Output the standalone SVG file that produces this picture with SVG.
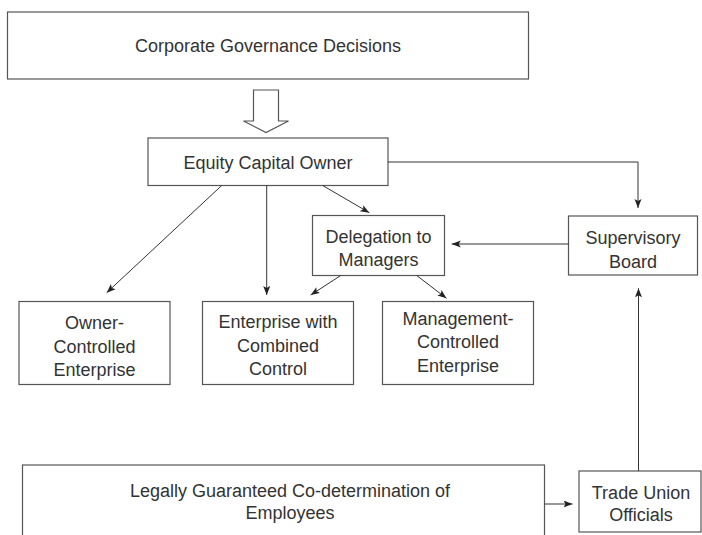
<svg xmlns="http://www.w3.org/2000/svg" width="702" height="535" viewBox="0 0 702 535">
<style>
  .box{fill:#fff;stroke:#555;stroke-width:1.2}
  .t{font-family:"Liberation Sans",Arial,sans-serif;font-size:18px;fill:#333;text-anchor:middle}
  .c{fill:none;stroke:#333;stroke-width:1}
</style>
<defs>
  <marker id="ah" markerUnits="userSpaceOnUse" markerWidth="10" markerHeight="8" refX="9" refY="3.5" orient="auto">
    <path d="M0,0 L9,3.5 L0,7 L2,3.5 z" fill="#222"/>
  </marker>
</defs>
<rect width="702" height="535" fill="#fff"/>

<g id="corporate-governance">
  <rect class="box" x="7.5" y="12" width="521" height="67"/>
  <text class="t" x="268" y="52">Corporate Governance Decisions</text>
</g>
<g id="hollow-arrow">
  <polygon class="box" points="253.5,90 278.5,90 278.5,121 288.5,121 266,132.5 243.5,121 253.5,121"/>
</g>
<g id="equity-capital-owner">
  <rect class="box" x="148" y="138" width="240" height="47.5"/>
  <text class="t" x="268" y="168.5">Equity Capital Owner</text>
</g>
<g id="delegation">
  <rect class="box" x="312.5" y="215.5" width="132" height="60"/>
  <text class="t" x="378.5" y="243">Delegation to</text>
  <text class="t" x="378.5" y="265.5">Managers</text>
</g>
<g id="supervisory-board">
  <rect class="box" x="568.5" y="216" width="129" height="59"/>
  <text class="t" x="633" y="243.5">Supervisory</text>
  <text class="t" x="633" y="267.5">Board</text>
</g>
<g id="owner-controlled">
  <rect class="box" x="19" y="301.5" width="151" height="83"/>
  <text class="t" x="94.5" y="329">Owner-</text>
  <text class="t" x="94.5" y="352.5">Controlled</text>
  <text class="t" x="94.5" y="376">Enterprise</text>
</g>
<g id="combined-control">
  <rect class="box" x="202.5" y="301.5" width="151" height="83"/>
  <text class="t" x="278" y="328">Enterprise with</text>
  <text class="t" x="278" y="351.5">Combined</text>
  <text class="t" x="278" y="375">Control</text>
</g>
<g id="management-controlled">
  <rect class="box" x="382.5" y="301.5" width="151" height="83"/>
  <text class="t" x="458" y="324.5">Management-</text>
  <text class="t" x="458" y="348">Controlled</text>
  <text class="t" x="458" y="371.5">Enterprise</text>
</g>
<g id="co-determination">
  <rect class="box" x="22.5" y="465" width="522" height="80"/>
  <text class="t" x="290" y="497">Legally Guaranteed Co-determination of</text>
  <text class="t" x="290" y="519">Employees</text>
</g>
<g id="trade-union">
  <rect class="box" x="579" y="471" width="122" height="61"/>
  <text class="t" x="641" y="498.5">Trade Union</text>
  <text class="t" x="641" y="520.5">Officials</text>
</g>

<g id="connectors">
  <path class="c" d="M388,162 H638 V208" marker-end="url(#ah)"/>
  <line class="c" x1="221.7" y1="185.5" x2="106.7" y2="292.7" marker-end="url(#ah)"/>
  <line class="c" x1="266.7" y1="185.5" x2="266.7" y2="295" marker-end="url(#ah)"/>
  <line class="c" x1="322.7" y1="185.5" x2="369.3" y2="212.7" marker-end="url(#ah)"/>
  <line class="c" x1="568.5" y1="244" x2="451.7" y2="244" marker-end="url(#ah)"/>
  <line class="c" x1="340.7" y1="275.5" x2="310.7" y2="295" marker-end="url(#ah)"/>
  <line class="c" x1="416.7" y1="275.5" x2="446.5" y2="298.3" marker-end="url(#ah)"/>
  <line class="c" x1="638.5" y1="471" x2="638.5" y2="288.3" marker-end="url(#ah)"/>
  <line class="c" x1="544.6" y1="504" x2="572.5" y2="504" marker-end="url(#ah)"/>
</g>
</svg>
